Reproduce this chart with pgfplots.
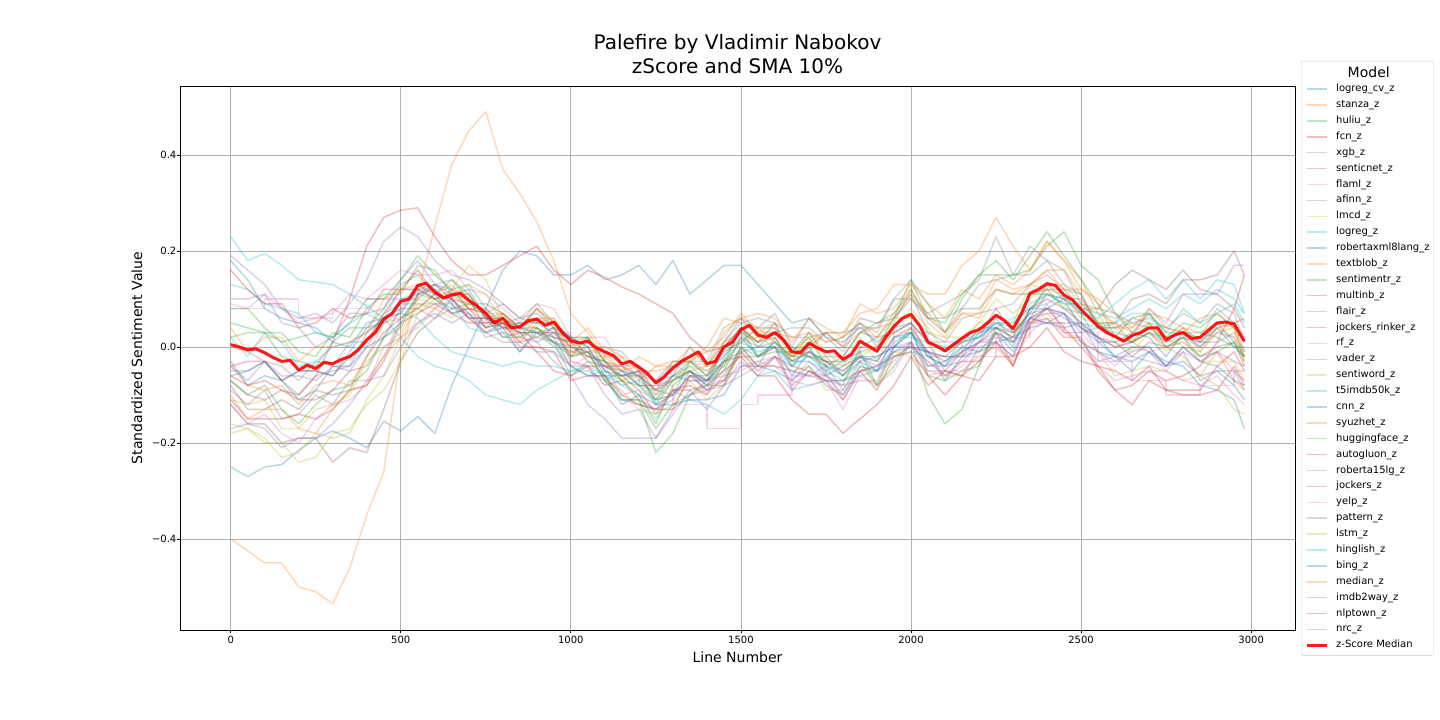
\documentclass[border=0pt]{standalone}
\usepackage{fontspec}
\setmainfont{DejaVu Sans}
\usepackage{pgfplots}
\usepackage{pgfplotstable}
\pgfplotsset{compat=1.18}
\definecolor{tabblue}{HTML}{1F77B4}
\definecolor{taborange}{HTML}{FF7F0E}
\definecolor{tabgreen}{HTML}{2CA02C}
\definecolor{tabred}{HTML}{D62728}
\definecolor{tabpurple}{HTML}{9467BD}
\definecolor{tabbrown}{HTML}{8C564B}
\definecolor{tabpink}{HTML}{E377C2}
\definecolor{tabgray}{HTML}{7F7F7F}
\definecolor{tabolive}{HTML}{BCBD22}
\definecolor{tabcyan}{HTML}{17BECF}
\definecolor{gridgray}{HTML}{B0B0B0}
\definecolor{legframe}{HTML}{CCCCCC}
\pgfplotsset{ser/.style={color=#1, opacity=0.3, line width=1.5pt, line join=round}}

\pgfplotstableread{
name c0 c1 c2 c3 c4 c5 c6 c7 c8 c9 c10 c11 c12 c13 c14 c15 c16 c17 c18 c19 c20 c21 c22 c23 c24 c25 c26 c27 c28 c29 c30 c31 c32 c33 c34 c35 c36 c37 c38 c39 c40 c41 c42 c43 c44 c45 c46 c47 c48 c49 c50 c51 c52 c53 c54 c55 c56 c57 c58 c59 c60
x 0 50 100 150 200 250 300 350 400 450 500 550 600 650 700 750 800 850 900 950 1000 1050 1100 1150 1200 1250 1300 1350 1400 1450 1500 1550 1600 1650 1700 1750 1800 1850 1900 1950 2000 2050 2100 2150 2200 2250 2300 2350 2400 2450 2500 2550 2600 2650 2700 2750 2800 2850 2900 2950 2980
s1 -0.25 -0.27 -0.25 -0.245 -0.215 -0.19 -0.175 -0.19 -0.21 -0.155 -0.175 -0.145 -0.18 -0.08 0.00 0.08 0.16 0.20 0.19 0.15 0.15 0.17 0.14 0.15 0.17 0.13 0.18 0.11 0.14 0.17 0.17 0.13 0.09 0.05 0.06 0.02 0.01 0.04 0.01 0.04 0.05 0.01 -0.01 0.01 0.03 0.05 0.03 0.07 0.08 0.07 0.04 0.01 -0.02 -0.03 -0.01 -0.04 -0.03 -0.06 -0.05 -0.08 -0.11
s2 -0.40 -0.425 -0.45 -0.45 -0.50 -0.51 -0.535 -0.46 -0.35 -0.26 -0.01 0.11 0.25 0.38 0.45 0.49 0.37 0.32 0.26 0.18 0.07 0.03 -0.02 -0.02 -0.07 -0.04 -0.03 -0.03 0.00 0.06 0.05 0.04 0.01 -0.02 -0.01 0.03 0.03 0.07 0.08 0.13 0.13 0.11 0.11 0.17 0.20 0.27 0.21 0.16 0.22 0.18 0.14 0.07 0.05 0.01 -0.01 0.00 -0.02 -0.06 -0.01 -0.07 -0.09
s3 0.05 0.04 0.03 0.03 -0.01 -0.02 0.03 0.02 0.08 0.11 0.11 0.17 0.16 0.11 0.08 0.07 0.04 0.03 0.02 0.01 -0.06 -0.03 -0.06 -0.11 -0.11 -0.22 -0.18 -0.10 -0.07 -0.06 0.00 -0.04 0.02 -0.04 0.00 -0.06 -0.08 0.00 0.02 0.06 0.14 0.09 0.03 0.10 0.15 0.15 0.15 0.16 0.21 0.24 0.17 0.14 0.07 0.03 0.07 0.03 0.03 0.01 0.05 0.01 -0.03
s4 -0.06 -0.08 -0.07 -0.09 -0.10 -0.06 0.01 0.10 0.21 0.27 0.285 0.29 0.23 0.18 0.15 0.15 0.17 0.19 0.21 0.16 0.13 0.16 0.145 0.125 0.11 0.09 0.07 0.02 -0.01 0.00 0.03 0.01 0.02 -0.03 -0.01 -0.03 -0.05 -0.02 -0.03 0.02 0.04 -0.01 -0.03 -0.01 0.01 0.04 0.02 0.08 0.10 0.08 0.05 0.02 0.00 0.01 0.03 0.00 0.02 0.01 0.04 0.05 0.06
s5 0.19 0.16 0.13 0.08 0.06 0.07 0.05 0.09 0.14 0.22 0.25 0.23 0.18 0.15 0.14 0.12 0.09 0.06 0.07 0.04 0.00 -0.01 -0.04 -0.06 -0.05 -0.09 -0.06 -0.03 -0.05 -0.02 0.02 0.00 0.01 -0.03 -0.01 -0.04 -0.05 -0.02 -0.04 0.01 0.03 -0.02 -0.04 -0.01 0.01 0.03 0.01 0.06 0.08 0.06 0.04 0.02 0.00 0.01 0.03 0.01 0.02 0.00 0.03 0.02 -0.02
s6 -0.12 -0.16 -0.16 -0.20 -0.19 -0.19 -0.24 -0.21 -0.22 -0.13 -0.03 0.03 0.06 0.10 0.06 0.03 0.05 0.03 0.03 0.03 0.00 -0.02 -0.03 -0.04 -0.06 -0.09 -0.07 -0.05 -0.08 0.00 0.04 0.01 0.03 0.00 -0.02 -0.03 -0.03 -0.01 0.00 0.03 0.05 -0.02 -0.02 0.01 0.02 0.08 0.03 0.07 0.13 0.10 0.10 0.05 0.05 0.10 0.11 0.09 0.14 0.14 0.15 0.20 0.15
s7 0.09 0.08 0.11 0.08 0.05 0.06 0.07 0.11 0.10 0.13 0.16 0.15 0.15 0.16 0.12 0.11 0.08 0.05 0.09 0.08 0.02 0.02 0.02 -0.04 -0.06 -0.07 -0.04 -0.05 -0.10 -0.06 -0.05 -0.03 -0.02 -0.07 -0.03 -0.05 -0.11 -0.05 -0.05 -0.03 0.01 -0.01 -0.06 -0.04 0.01 0.02 0.01 0.04 0.09 0.03 0.03 -0.01 -0.04 0.00 -0.01 -0.05 -0.01 -0.03 -0.01 -0.05 -0.07
s8 -0.09 -0.12 -0.09 -0.15 -0.14 -0.10 -0.12 -0.07 -0.07 -0.02 0.06 0.08 0.06 0.08 0.07 0.02 0.03 -0.01 0.04 0.01 0.00 -0.01 -0.04 -0.04 -0.08 -0.09 -0.03 -0.03 -0.06 0.01 0.05 0.06 0.05 0.02 0.02 0.03 0.03 0.04 0.04 0.10 0.10 0.07 0.09 0.11 0.14 0.23 0.15 0.21 0.18 0.13 0.11 0.04 0.04 0.05 0.04 0.01 0.04 0.01 0.01 0.03 -0.01
s9 -0.16 -0.17 -0.20 -0.20 -0.24 -0.23 -0.18 -0.17 -0.12 -0.09 -0.03 0.07 0.10 0.12 0.17 0.14 0.06 0.04 0.08 0.05 0.00 0.02 -0.03 -0.07 -0.05 -0.11 -0.07 -0.03 -0.04 -0.04 0.02 0.02 0.04 -0.03 0.03 -0.01 -0.04 0.02 -0.03 0.04 0.08 0.04 -0.01 0.01 0.05 0.05 0.05 0.13 0.12 0.11 0.06 0.05 0.04 0.01 0.04 0.02 0.00 -0.01 0.04 0.02 -0.02
s10 0.23 0.18 0.195 0.17 0.14 0.135 0.13 0.11 0.085 0.06 0.02 -0.02 -0.04 -0.05 -0.07 -0.10 -0.11 -0.12 -0.09 -0.07 -0.05 -0.04 -0.06 -0.08 -0.07 -0.10 -0.06 -0.04 -0.07 -0.03 0.01 -0.01 0.00 -0.04 -0.02 -0.05 -0.07 -0.03 -0.05 0.00 0.03 -0.02 -0.04 0.00 0.02 0.05 0.04 0.09 0.11 0.10 0.08 0.07 0.06 0.08 0.10 0.08 0.11 0.09 0.12 0.10 0.07
s11 0.18 0.14 0.08 0.06 0.05 0.04 0.01 0.00 0.05 0.06 0.08 0.13 0.11 0.07 0.08 0.04 0.05 0.04 0.03 0.01 -0.01 0.00 -0.06 -0.06 -0.05 -0.12 -0.10 -0.06 -0.07 -0.05 0.02 -0.02 0.00 -0.03 -0.03 -0.06 -0.04 -0.02 -0.05 0.02 0.03 -0.04 -0.03 0.00 -0.01 0.03 -0.01 0.06 0.05 0.07 0.01 -0.01 -0.02 -0.05 -0.01 -0.03 -0.04 -0.08 -0.09 -0.11 -0.17
s12 -0.04 -0.08 -0.09 -0.08 -0.12 -0.08 -0.07 -0.08 -0.02 0.05 0.06 0.08 0.11 0.11 0.11 0.06 0.07 0.02 0.06 0.06 0.01 0.04 -0.01 -0.05 -0.02 -0.04 -0.04 0.00 -0.04 0.03 0.06 0.07 0.06 0.01 0.06 0.04 0.02 0.09 0.07 0.08 0.13 0.09 0.06 0.12 0.10 0.15 0.13 0.16 0.22 0.18 0.12 0.10 0.07 0.04 0.07 0.06 0.04 0.03 0.05 0.04 -0.02
s13 0.02 0.03 0.03 -0.02 -0.03 -0.04 0.01 0.04 0.04 0.08 0.13 0.15 0.11 0.14 0.11 0.06 0.06 0.04 0.03 0.04 0.02 -0.02 -0.03 -0.07 -0.10 -0.16 -0.08 -0.05 -0.07 -0.04 0.04 -0.02 0.01 -0.02 -0.02 -0.02 -0.06 -0.03 -0.08 0.00 0.04 -0.06 -0.07 -0.05 -0.04 0.04 0.02 0.11 0.11 0.09 0.09 0.05 0.02 0.06 0.07 0.02 0.05 0.04 0.07 0.04 0.02
s14 -0.11 -0.15 -0.15 -0.15 -0.14 -0.15 -0.13 -0.09 -0.08 -0.03 0.05 0.07 0.09 0.07 0.05 0.05 0.05 0.01 0.02 0.04 -0.03 -0.04 -0.04 -0.06 -0.09 -0.14 -0.09 -0.09 -0.08 -0.05 -0.02 -0.02 0.00 -0.09 -0.05 -0.07 -0.11 -0.05 -0.04 -0.02 0.00 -0.03 -0.06 -0.03 -0.03 0.03 -0.04 0.05 0.06 0.02 0.02 -0.05 -0.09 -0.08 -0.05 -0.07 -0.06 -0.04 0.01 0.08 0.15
s15 0.10 0.10 0.11 0.05 0.04 0.00 0.02 0.07 0.07 0.08 0.14 0.18 0.13 0.12 0.08 0.08 0.04 0.04 0.01 -0.03 -0.06 -0.12 -0.15 -0.19 -0.19 -0.19 -0.13 -0.10 -0.09 -0.08 -0.03 -0.06 -0.02 -0.05 -0.06 -0.07 -0.08 -0.07 -0.07 0.00 0.01 -0.05 -0.05 -0.06 0.00 0.01 -0.02 0.06 0.05 0.05 0.05 -0.01 -0.03 -0.01 0.00 -0.04 0.00 -0.03 -0.01 -0.03 -0.04
s16 -0.08 -0.13 -0.13 -0.11 -0.13 -0.09 -0.10 -0.09 -0.02 0.03 0.06 0.10 0.13 0.10 0.09 0.09 0.07 0.04 0.08 0.04 -0.02 0.02 -0.03 -0.05 -0.06 -0.09 -0.10 -0.06 -0.06 -0.01 0.01 0.04 0.04 -0.01 0.03 -0.02 -0.02 0.03 0.02 0.03 0.05 0.01 -0.05 -0.01 0.04 0.04 0.03 0.06 0.11 0.10 0.04 0.02 0.01 -0.02 0.01 0.00 0.01 -0.02 0.00 0.01 -0.04
s17 0.08 0.08 0.10 0.10 0.06 0.06 0.08 0.08 0.10 0.10 0.10 0.12 0.12 0.08 0.08 0.05 0.05 0.03 0.03 0.03 -0.01 -0.01 -0.04 -0.04 -0.08 -0.08 -0.12 -0.12 -0.17 -0.17 -0.12 -0.10 -0.10 -0.06 -0.06 -0.03 -0.03 0.00 0.00 0.03 0.03 0.01 0.01 -0.02 -0.02 0.02 0.02 0.05 0.05 0.03 0.03 -0.03 -0.03 -0.07 -0.07 -0.10 -0.10 -0.08 -0.08 -0.05 -0.05
s18 -0.05 -0.05 -0.03 -0.07 -0.10 -0.06 -0.05 -0.04 0.03 0.06 0.07 0.12 0.10 0.11 0.11 0.06 0.04 0.04 0.06 0.02 0.01 0.02 -0.03 -0.06 -0.05 -0.07 -0.06 0.00 -0.04 0.01 0.06 0.02 0.03 0.04 0.04 0.01 0.02 0.05 0.03 0.10 0.14 0.06 0.06 0.08 0.13 0.14 0.15 0.15 0.18 0.16 0.09 0.08 0.07 0.05 0.06 0.04 0.07 0.05 0.09 0.07 0.01
s19 -0.18 -0.17 -0.19 -0.23 -0.22 -0.18 -0.19 -0.18 -0.11 -0.06 0.02 0.04 0.08 0.06 0.09 0.07 0.04 0.05 0.04 0.00 -0.01 -0.01 -0.07 -0.09 -0.13 -0.14 -0.12 -0.07 -0.11 -0.08 -0.01 -0.04 -0.04 -0.05 -0.04 -0.09 -0.09 -0.04 -0.08 -0.01 -0.02 -0.05 -0.06 -0.06 -0.01 0.00 -0.04 0.05 0.07 0.03 0.01 -0.01 -0.06 -0.05 -0.04 -0.05 -0.07 -0.06 -0.08 -0.13 -0.14
s20 0.02 -0.02 0.03 0.01 -0.04 -0.03 0.00 0.01 0.01 0.07 0.09 0.09 0.09 0.09 0.04 0.03 0.04 -0.01 0.03 0.00 -0.04 -0.06 -0.05 -0.08 -0.10 -0.15 -0.09 -0.11 -0.12 -0.14 -0.11 -0.06 -0.05 -0.09 -0.08 -0.07 -0.07 -0.06 -0.05 -0.02 -0.01 -0.02 -0.04 0.02 0.02 0.04 0.06 0.08 0.09 0.11 0.07 0.06 0.09 0.12 0.14 0.10 0.14 0.10 0.14 0.13 0.07
s21 -0.03 -0.08 -0.06 -0.07 -0.11 -0.09 -0.04 -0.04 0.00 0.02 0.05 0.11 0.12 0.09 0.06 0.06 0.02 0.03 0.03 0.02 -0.04 -0.06 -0.06 -0.12 -0.10 -0.12 -0.12 -0.11 -0.11 -0.10 -0.04 -0.04 -0.05 -0.07 -0.04 -0.08 -0.10 -0.04 -0.05 -0.01 0.00 -0.01 -0.07 -0.02 -0.01 0.01 0.02 0.04 0.05 0.04 0.05 0.02 -0.02 0.00 0.00 -0.04 0.00 -0.03 -0.04 -0.07 -0.08
s22 -0.10 -0.15 -0.13 -0.13 -0.17 -0.18 -0.13 -0.09 -0.08 -0.02 0.02 0.09 0.08 0.12 0.08 0.05 0.06 0.01 0.05 0.06 -0.01 -0.02 -0.02 -0.05 -0.04 -0.10 -0.06 -0.05 -0.04 0.01 0.03 0.03 0.05 -0.02 0.01 0.03 0.00 0.03 0.04 0.05 0.12 0.05 0.02 0.07 0.06 0.12 0.11 0.13 0.16 0.16 0.11 0.05 0.05 0.03 0.05 0.01 0.04 -0.01 0.03 0.04 -0.03
s23 0.08 0.08 0.04 0.01 0.02 0.03 0.02 0.05 0.10 0.10 0.14 0.19 0.15 0.12 0.13 0.08 0.05 0.06 0.05 0.05 0.02 0.02 -0.05 -0.07 -0.08 -0.11 -0.10 -0.03 -0.06 -0.03 0.04 0.00 0.03 -0.01 0.02 -0.04 -0.06 -0.01 -0.08 -0.04 0.01 -0.10 -0.16 -0.13 -0.04 0.03 0.01 0.08 0.12 0.08 0.07 0.05 0.02 0.01 0.03 0.02 0.03 0.03 0.02 0.00 0.00
s24 -0.04 -0.03 -0.03 -0.07 -0.05 -0.05 -0.06 -0.02 0.01 0.07 0.12 0.12 0.10 0.11 0.10 0.04 0.05 0.03 -0.01 -0.05 -0.06 -0.04 -0.08 -0.07 -0.11 -0.13 -0.09 -0.08 -0.10 -0.03 -0.02 -0.06 -0.06 -0.11 -0.14 -0.14 -0.18 -0.15 -0.12 -0.08 -0.02 -0.08 -0.05 -0.06 -0.03 0.01 -0.04 0.05 0.08 0.04 0.00 -0.04 -0.05 -0.07 -0.04 -0.09 -0.09 -0.09 -0.04 -0.01 -0.05
s25 -0.04 -0.07 -0.03 -0.06 -0.06 -0.07 -0.04 -0.05 0.00 0.06 0.07 0.13 0.10 0.07 0.08 0.07 0.03 0.02 0.01 0.03 -0.02 -0.01 -0.07 -0.11 -0.12 -0.13 -0.11 -0.05 -0.08 -0.07 0.00 -0.04 -0.04 -0.05 -0.06 -0.04 -0.09 -0.03 -0.02 0.00 0.00 -0.01 -0.02 -0.02 0.01 0.06 0.01 0.06 0.08 0.07 0.03 0.04 0.03 0.02 0.08 0.05 0.11 0.11 0.11 0.17 0.17
s26 -0.07 -0.10 -0.11 -0.09 -0.11 -0.11 -0.09 -0.05 -0.04 0.02 0.08 0.08 0.11 0.10 0.07 0.04 0.07 0.04 0.04 0.02 0.01 -0.03 -0.04 -0.05 -0.08 -0.08 -0.07 -0.05 -0.07 0.00 0.04 0.01 0.05 -0.02 0.00 0.03 0.00 0.06 0.05 0.06 0.10 0.06 0.03 0.08 0.08 0.12 0.11 0.11 0.12 0.12 0.08 0.08 0.13 0.16 0.14 0.12 0.16 0.12 0.11 0.08 0.04
s27 -0.12 -0.16 -0.14 -0.18 -0.20 -0.15 -0.12 -0.11 -0.08 0.00 0.02 0.05 0.08 0.10 0.06 0.03 0.04 -0.01 0.03 0.01 -0.04 -0.02 -0.04 -0.10 -0.09 -0.11 -0.10 -0.07 -0.07 -0.07 -0.04 -0.03 -0.04 -0.07 -0.08 -0.07 -0.13 -0.06 -0.08 -0.05 0.01 -0.06 -0.05 -0.05 -0.02 0.00 -0.03 0.03 0.06 0.03 0.02 -0.04 -0.07 -0.06 -0.05 -0.05 -0.07 -0.08 -0.06 -0.10 -0.12
s28 0.00 -0.01 -0.03 -0.04 -0.07 -0.03 -0.04 0.01 0.03 0.06 0.12 0.12 0.13 0.14 0.10 0.07 0.09 0.06 0.09 0.05 0.02 0.00 0.00 -0.01 -0.05 -0.07 -0.03 -0.03 -0.03 0.04 0.06 0.04 0.07 0.00 0.06 0.02 -0.01 0.05 0.00 0.06 0.11 0.03 0.01 0.06 0.07 0.08 0.09 0.13 0.15 0.12 0.11 0.04 0.04 0.06 0.05 0.04 0.03 0.02 0.08 0.05 -0.01
s29 -0.11 -0.12 -0.11 -0.17 -0.17 -0.13 -0.12 -0.10 -0.03 0.00 0.03 0.10 0.09 0.11 0.13 0.11 0.05 0.04 0.06 0.05 -0.02 0.01 -0.03 -0.07 -0.06 -0.12 -0.07 -0.04 -0.05 -0.04 0.01 0.02 0.00 -0.02 0.02 -0.03 -0.04 -0.02 0.00 0.06 0.06 0.03 0.02 0.02 0.05 0.10 0.07 0.10 0.13 0.13 0.09 0.07 0.01 -0.01 0.03 -0.01 0.02 -0.03 -0.03 -0.03 -0.07
s30 0.13 0.12 0.09 0.08 0.07 0.03 0.02 0.05 0.07 0.05 0.07 0.06 0.02 -0.01 -0.02 -0.03 -0.04 -0.03 -0.04 -0.04 -0.05 -0.05 -0.07 -0.05 -0.08 -0.12 -0.07 -0.05 -0.09 -0.02 0.03 -0.02 0.01 -0.04 0.00 -0.05 -0.03 -0.02 -0.03 0.02 0.02 0.01 0.00 0.01 0.02 0.05 0.05 0.08 0.11 0.09 0.05 0.04 0.05 0.07 0.07 0.03 0.08 0.05 0.07 0.09 0.05
s31 -0.06 -0.05 -0.03 -0.07 -0.05 -0.05 -0.06 -0.01 0.04 0.05 0.10 0.11 0.13 0.11 0.12 0.06 0.04 0.05 0.05 0.03 0.02 0.00 -0.05 -0.06 -0.06 -0.11 -0.06 -0.07 -0.07 -0.03 -0.01 0.00 0.00 -0.06 -0.01 -0.03 -0.06 -0.02 -0.02 0.00 0.03 -0.01 -0.02 -0.02 0.03 0.04 0.00 0.08 0.08 0.10 0.07 0.01 0.01 0.03 0.02 -0.02 0.03 0.00 0.04 0.00 -0.02
s32 0.04 -0.01 0.02 0.02 -0.03 0.00 0.00 0.01 0.03 0.10 0.12 0.13 0.11 0.13 0.08 0.07 0.07 0.04 0.08 0.05 0.01 -0.01 0.00 -0.02 -0.05 -0.05 -0.04 -0.03 -0.01 0.02 0.07 0.03 0.03 0.02 0.03 0.01 0.02 0.05 0.02 0.07 0.11 0.07 0.03 0.07 0.07 0.14 0.12 0.13 0.16 0.12 0.12 0.09 0.04 0.04 0.08 0.04 0.03 0.06 0.07 0.04 0.01
s33 -0.07 -0.10 -0.08 -0.13 -0.16 -0.12 -0.09 -0.08 -0.05 0.02 0.04 0.11 0.10 0.08 0.09 0.07 0.02 0.02 0.04 0.01 -0.02 -0.01 -0.07 -0.11 -0.11 -0.17 -0.12 -0.10 -0.08 -0.08 0.00 -0.02 -0.01 -0.01 -0.02 -0.04 -0.02 0.03 0.05 0.07 0.12 0.06 0.05 0.11 0.15 0.18 0.14 0.19 0.24 0.19 0.14 0.09 0.02 0.01 0.05 0.00 0.02 -0.02 -0.01 0.01 -0.02
s34 0.16 0.12 0.09 0.09 0.04 0.05 0.08 0.06 0.07 0.12 0.12 0.16 0.11 0.10 0.06 0.06 0.05 0.00 0.00 -0.01 -0.07 -0.06 -0.06 -0.10 -0.12 -0.13 -0.13 -0.06 -0.09 -0.07 -0.01 -0.05 -0.02 -0.04 -0.05 -0.07 -0.07 -0.05 -0.09 -0.02 -0.01 -0.06 -0.10 -0.06 -0.07 -0.02 -0.02 0.00 0.04 -0.01 -0.03 -0.04 -0.09 -0.12 -0.07 -0.09 -0.10 -0.10 -0.09 -0.04 -0.08
s35 -0.17 -0.16 -0.17 -0.21 -0.19 -0.19 -0.16 -0.12 -0.07 -0.06 0.00 0.05 0.07 0.05 0.07 0.03 0.01 0.01 -0.01 -0.01 -0.04 -0.04 -0.10 -0.14 -0.13 -0.19 -0.14 -0.09 -0.13 -0.08 -0.06 -0.04 -0.02 -0.08 -0.05 -0.06 -0.10 -0.05 -0.04 -0.01 0.01 -0.04 -0.04 -0.03 0.01 0.01 -0.02 0.06 0.07 0.07 0.01 -0.03 -0.02 -0.02 -0.03 -0.04 -0.01 -0.07 -0.05 -0.05 -0.09
}\rawdata
\pgfplotstabletranspose[colnames from=name]\data\rawdata

\pgfplotstableread{
x y
0 0.005
25 0.000
50 -0.006
75 -0.004
100 -0.012
125 -0.022
150 -0.030
175 -0.028
200 -0.048
225 -0.038
250 -0.045
275 -0.032
300 -0.035
325 -0.026
350 -0.020
375 -0.006
400 0.015
425 0.030
450 0.058
475 0.070
500 0.095
525 0.100
550 0.128
575 0.133
600 0.115
625 0.102
650 0.108
675 0.112
700 0.097
725 0.085
750 0.070
775 0.050
800 0.060
825 0.040
850 0.042
875 0.055
900 0.058
925 0.045
950 0.052
975 0.030
1000 0.013
1025 0.008
1050 0.012
1075 -0.002
1100 -0.010
1125 -0.018
1150 -0.035
1175 -0.030
1200 -0.042
1225 -0.055
1250 -0.075
1275 -0.062
1300 -0.044
1325 -0.030
1350 -0.020
1375 -0.010
1400 -0.035
1425 -0.030
1450 0.000
1475 0.010
1500 0.036
1525 0.045
1550 0.025
1575 0.020
1600 0.030
1625 0.015
1650 -0.010
1675 -0.012
1700 0.008
1725 -0.002
1750 -0.010
1775 -0.008
1800 -0.026
1825 -0.015
1850 0.012
1875 0.002
1900 -0.009
1925 0.020
1950 0.043
1975 0.060
2000 0.068
2025 0.045
2050 0.010
2075 0.002
2100 -0.008
2125 0.005
2150 0.018
2175 0.030
2200 0.036
2225 0.050
2250 0.066
2275 0.055
2300 0.038
2325 0.070
2350 0.112
2375 0.120
2400 0.132
2425 0.128
2450 0.108
2475 0.098
2500 0.078
2525 0.060
2550 0.043
2575 0.030
2600 0.022
2625 0.012
2650 0.024
2675 0.030
2700 0.040
2725 0.040
2750 0.015
2775 0.025
2800 0.030
2825 0.018
2850 0.020
2875 0.035
2900 0.050
2925 0.052
2950 0.048
2965 0.030
2980 0.012
}\medtab

\begin{document}
\begin{tikzpicture}
\path[use as bounding box, fill=white] (0,0) rectangle (1440pt,720pt);
\begin{axis}[
  at={(180pt,90pt)}, anchor=south west,
  scale only axis, width=1115pt, height=544pt,
  xmin=-149, xmax=3129, ymin=-0.5896, ymax=0.5437,
  xtick={0,500,1000,1500,2000,2500,3000},
  xticklabels={0,500,1000,1500,2000,2500,3000},
  ytick={-0.4,-0.2,0,0.2,0.4},
  yticklabels={−0.4,−0.2,0.0,0.2,0.4},
  tick pos=left, tick align=outside, major tick length=3.5pt,
  every tick/.style={black, line width=0.8pt},
  tick label style={font=\fontsize{10}{12}\selectfont},
  xticklabel style={inner sep=0pt, anchor=north, yshift=-2pt},
  yticklabel style={inner sep=0pt, anchor=east},
  xlabel={Line Number}, ylabel={Standardized Sentiment Value},
  label style={font=\fontsize{14}{17}\selectfont},
  xlabel style={at={(axis description cs:0.5,-0.0496)}, anchor=center},
  ylabel style={at={(axis description cs:-0.0386,0.5)}, anchor=center},
  title={Palefire by Vladimir Nabokov\\zScore and SMA 10\%},
  title style={font=\fontsize{20}{24}\selectfont, align=center, at={(0.5,1)}, anchor=south, yshift=6pt, inner sep=0pt},
  grid=major, major grid style={gridgray, line width=0.8pt},
  axis line style={line width=0.8pt},
  no markers,
  legend cell align=left,
  legend image code/.code={\draw[#1] (0pt,0pt) -- (20pt,0pt);},
  legend style={at={(1.00538,1.0460)}, anchor=north west, draw=legframe, fill=white, rounded corners=2pt,
    inner xsep=4pt, inner ysep=4.75pt, row sep=4.89pt, column sep=8pt,
    font=\fontsize{10}{12}\selectfont,
    nodes={inner sep=0pt, text height=8pt, text depth=3pt}},
]
\addlegendimage{empty legend}
\addlegendentry[text height=11.25pt, text depth=1.6pt, font=\fontsize{14}{17}\selectfont]{\hspace*{11.5pt}Model}
\addplot[ser=tabblue] table[x=x,y=s1]{\data}; \addlegendentry{logreg\_cv\_z}
\addplot[ser=taborange] table[x=x,y=s2]{\data}; \addlegendentry{stanza\_z}
\addplot[ser=tabgreen] table[x=x,y=s3]{\data}; \addlegendentry{huliu\_z}
\addplot[ser=tabred] table[x=x,y=s4]{\data}; \addlegendentry{fcn\_z}
\addplot[ser=tabpurple] table[x=x,y=s5]{\data}; \addlegendentry{xgb\_z}
\addplot[ser=tabbrown] table[x=x,y=s6]{\data}; \addlegendentry{senticnet\_z}
\addplot[ser=tabpink] table[x=x,y=s7]{\data}; \addlegendentry{flaml\_z}
\addplot[ser=tabgray] table[x=x,y=s8]{\data}; \addlegendentry{afinn\_z}
\addplot[ser=tabolive] table[x=x,y=s9]{\data}; \addlegendentry{lmcd\_z}
\addplot[ser=tabcyan] table[x=x,y=s10]{\data}; \addlegendentry{logreg\_z}
\addplot[ser=tabblue] table[x=x,y=s11]{\data}; \addlegendentry{robertaxml8lang\_z}
\addplot[ser=taborange] table[x=x,y=s12]{\data}; \addlegendentry{textblob\_z}
\addplot[ser=tabgreen] table[x=x,y=s13]{\data}; \addlegendentry{sentimentr\_z}
\addplot[ser=tabred] table[x=x,y=s14]{\data}; \addlegendentry{multinb\_z}
\addplot[ser=tabpurple] table[x=x,y=s15]{\data}; \addlegendentry{flair\_z}
\addplot[ser=tabbrown] table[x=x,y=s16]{\data}; \addlegendentry{jockers\_rinker\_z}
\addplot[ser=tabpink, const plot, legend image code/.code={\draw[tabpink, opacity=0.3, line width=1.5pt] (0pt,0pt) -- (20pt,0pt);}] table[x=x,y=s17]{\data}; \addlegendentry{rf\_z}
\addplot[ser=tabgray] table[x=x,y=s18]{\data}; \addlegendentry{vader\_z}
\addplot[ser=tabolive] table[x=x,y=s19]{\data}; \addlegendentry{sentiword\_z}
\addplot[ser=tabcyan] table[x=x,y=s20]{\data}; \addlegendentry{t5imdb50k\_z}
\addplot[ser=tabblue] table[x=x,y=s21]{\data}; \addlegendentry{cnn\_z}
\addplot[ser=taborange] table[x=x,y=s22]{\data}; \addlegendentry{syuzhet\_z}
\addplot[ser=tabgreen] table[x=x,y=s23]{\data}; \addlegendentry{huggingface\_z}
\addplot[ser=tabred] table[x=x,y=s24]{\data}; \addlegendentry{autogluon\_z}
\addplot[ser=tabpurple] table[x=x,y=s25]{\data}; \addlegendentry{roberta15lg\_z}
\addplot[ser=tabbrown] table[x=x,y=s26]{\data}; \addlegendentry{jockers\_z}
\addplot[ser=tabpink] table[x=x,y=s27]{\data}; \addlegendentry{yelp\_z}
\addplot[ser=tabgray] table[x=x,y=s28]{\data}; \addlegendentry{pattern\_z}
\addplot[ser=tabolive] table[x=x,y=s29]{\data}; \addlegendentry{lstm\_z}
\addplot[ser=tabcyan] table[x=x,y=s30]{\data}; \addlegendentry{hinglish\_z}
\addplot[ser=tabblue] table[x=x,y=s31]{\data}; \addlegendentry{bing\_z}
\addplot[ser=taborange] table[x=x,y=s32]{\data}; \addlegendentry{median\_z}
\addplot[ser=tabgreen] table[x=x,y=s33]{\data}; \addlegendentry{imdb2way\_z}
\addplot[ser=tabred] table[x=x,y=s34]{\data}; \addlegendentry{nlptown\_z}
\addplot[ser=tabpurple] table[x=x,y=s35]{\data}; \addlegendentry{nrc\_z}
\addplot[color=red, opacity=0.9, line width=3pt, line join=round] table[x=x,y=y]{\medtab}; \addlegendentry{z-Score Median}
\end{axis}
\end{tikzpicture}
\end{document}
